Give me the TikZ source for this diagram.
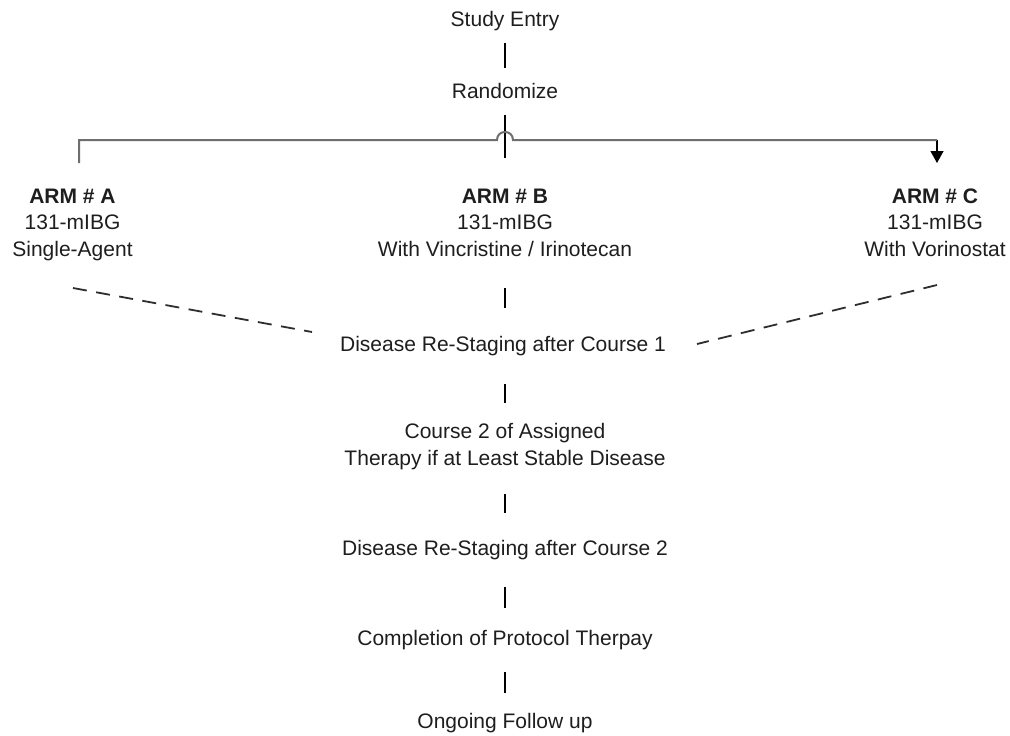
\documentclass[tikz,border=0pt]{standalone}
\usepackage{fontspec}
\setmainfont{Liberation Sans}
\usetikzlibrary{arrows.meta}
\definecolor{txt}{HTML}{1E1E1E}
\definecolor{hubgray}{HTML}{6E6E6E}
\definecolor{dashc}{HTML}{2E2E2E}
\begin{document}
\begin{tikzpicture}[x=1pt,y=-1pt,
  lbl/.style={inner sep=0pt, outer sep=0pt, text=txt, font=\fontsize{21}{26.5}\selectfont, align=center, anchor=base},
  vconn/.style={draw=black, line width=1.5pt},
  hubline/.style={draw=hubgray, line width=2pt},
  dashconn/.style={draw=dashc, line width=1.8pt, dash pattern=on 14pt off 9.5pt}]
\useasboundingbox[fill=white] (0,0) rectangle (1010,736);

% nodes (base anchor = baseline of the last line)
\node[lbl] (se)   at (505,26)  {Study Entry};
\node[lbl] (rnd)  at (505,98)  {Randomize};
\node[lbl] (armA) at (72.5,256) {\textbf{ARM \# A}\\131-mIBG\\Single-Agent};
\node[lbl] (armB) at (505,256) {\textbf{ARM \# B}\\131-mIBG\\With Vincristine / Irinotecan};
\node[lbl] (armC) at (935,256) {\textbf{ARM \# C}\\131-mIBG\\With Vorinostat};
\node[lbl] (d1)   at (503,351) {Disease Re-Staging after Course 1};
\node[lbl] (c2)   at (505,465) {Course 2 of Assigned\\Therapy if at Least Stable Disease};
\node[lbl] (d2)   at (505,555) {Disease Re-Staging after Course 2};
\node[lbl] (comp) at (505,645) {Completion of Protocol Therpay};
\node[lbl] (ong)  at (505,728) {Ongoing Follow up};

% coordinates of the branching bar
\coordinate (hub)  at (505,158);
\coordinate (aA)   at (79,163);
\coordinate (barA) at (79,140);
\coordinate (hopL) at (497,140);
\coordinate (hopR) at (513,140);
\coordinate (barC) at (937,140);
\coordinate (aC)   at (937,163);
\coordinate (dA1)  at (73,288);
\coordinate (dA2)  at (312,332);
\coordinate (dC1)  at (937,285);
\coordinate (dC2)  at (697,344);

% vertical connectors
\draw[vconn, shorten <=12.6pt, shorten >=14.7pt] (se) -- (rnd);
\draw[vconn, shorten <=16.7pt] (rnd.south) -- (hub);
\draw[vconn, shorten <=31.7pt, shorten >=27.8pt] (armB.south) -- (armB.south |- d1.north);
\draw[vconn, shorten <=28.6pt, shorten >=19.8pt] (d1.south -| c2.north) -- (c2.north);
\draw[vconn, shorten <=24.6pt, shorten >=26.8pt] (c2.south) -- (d2.north);
\draw[vconn, shorten <=27.6pt, shorten >=21.8pt] (d2.south) -- (comp.north);
\draw[vconn, shorten <=22.6pt, shorten >=19.8pt] (comp.south) -- (ong.north);

% branching bar with hop
\draw[black, line width=1.3pt, -{Triangle[length=12pt,width=13pt]}] (barC) -- (aC);
\draw[hubline] (aA) -- (barA) -- (hopL) .. controls (497,129.3) and (513,129.3) .. (hopR) -- (barC);

% dashed links
\draw[dashconn] (dA1) -- (dA2);
\draw[dashconn] (dC1) -- (dC2);
\end{tikzpicture}
\end{document}
